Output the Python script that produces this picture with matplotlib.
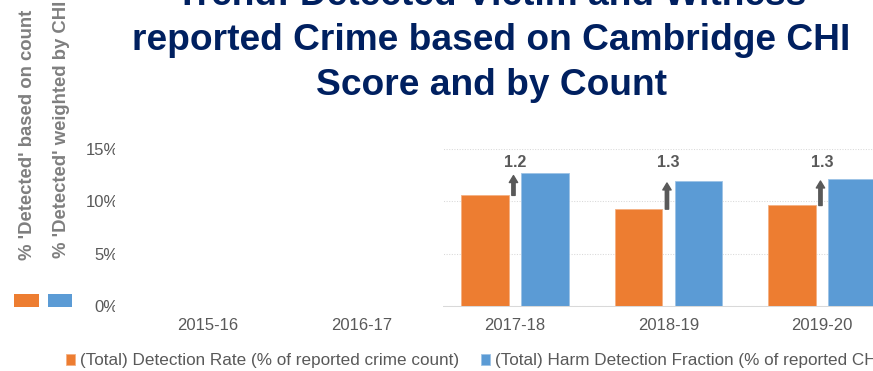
import matplotlib
matplotlib.use("Agg")
import matplotlib.pyplot as plt
import numpy as np
from matplotlib.patches import Rectangle, FancyArrowPatch
from matplotlib.ticker import PercentFormatter

plt.rcParams["font.family"] = ["Liberation Sans", "DejaVu Sans"]

# data (values in %)
years = ["2015-16", "2016-17", "2017-18", "2018-19", "2019-20"]
detection_rate = [np.nan, np.nan, 10.58, 9.26, 9.61]
harm_fraction = [np.nan, np.nan, 12.68, 11.97, 12.16]
uplift = [None, None, 1.2, 1.3, 1.3]
y_ticks = [0, 5, 10, 15]

series_names = [
    "(Total) Detection Rate (% of reported crime count)",
    "(Total) Harm Detection Fraction (% of reported CHI Score)",
]
title_lines = [
    "Trend: Detected Victim and Witness",
    "reported Crime based on Cambridge CHI",
    "Score and by Count",
]

ORANGE = "#ED7D31"
BLUE = "#5B9BD5"
GREY = "#595959"
LIGHT = "#7F7F7F"
NAVY = "#002060"

W, H = 873, 371


def fx(x):
    return x / W


def fy(y):
    return 1 - y / H


fig = plt.figure(figsize=(W / 100, H / 100), dpi=100)
ax = fig.add_axes([fx(131.25), fy(305.7), 767.5 / W, (305.7 - 149.3) / H])

x = np.arange(len(years))
bw = 0.31
off = 0.195
b1 = ax.bar(x - off, detection_rate, bw, color=ORANGE, edgecolor="#F4B183",
            linewidth=0.6, label=series_names[0])
b2 = ax.bar(x + off, harm_fraction, bw, color=BLUE, edgecolor="#9DC3E6",
            linewidth=0.6, label=series_names[1])

for i, r in enumerate(uplift):
    if r is None:
        continue
    arrow = FancyArrowPatch(
        (i - 0.01, detection_rate[i]),
        (i - 0.01, harm_fraction[i]),
        arrowstyle="Simple, tail_width=2.4, head_width=6, head_length=5",
        color=GREY,
        shrinkA=0,
        shrinkB=1.5,
        mutation_scale=1,
    )
    ax.add_patch(arrow)
    ax.text(i, 13.3, f"{r:.1f}", ha="center", va="baseline", fontsize=11.5,
            fontweight="bold", color=GREY, clip_on=False)

ax.set_xlim(-0.5, 4.5)
ax.set_ylim(0, 15)
ax.set_xticks(x)
ax.set_xticklabels(years)
ax.set_yticks(y_ticks)
ax.yaxis.set_major_formatter(PercentFormatter(100, decimals=0))
ax.tick_params(axis="both", length=0, labelsize=12, labelcolor=GREY)
ax.tick_params(axis="y", pad=9)
ax.tick_params(axis="x", pad=9)
ax.yaxis.grid(True, linestyle=(0, (1, 1.5)), color="#D9D9D9", linewidth=0.75)
ax.set_axisbelow(True)
for s in ["top", "right", "left"]:
    ax.spines[s].set_visible(False)
ax.spines["bottom"].set_color("#D9D9D9")
ax.spines["bottom"].set_linewidth(0.75)

# white box sitting over the left part of the chart (as on the slide)
fig.add_artist(Rectangle((fx(115), fy(312)), (443 - 115) / W, (312 - 125) / H,
                         transform=fig.transFigure, facecolor="white",
                         edgecolor="none", zorder=5))

# title
for line, base in zip(title_lines, [5, 50, 95]):
    fig.text(fx(491.5), fy(base), line, ha="center", va="baseline",
             fontsize=26.7, fontweight="bold", color=NAVY)

# rotated side labels with their colour keys
fig.text(fx(32.3), fy(260), "% 'Detected' based on count", rotation=90,
         rotation_mode="anchor", ha="left", va="baseline", fontsize=13.3,
         fontweight="bold", color=LIGHT)
fig.text(fx(65.7), fy(258), "% 'Detected' weighted by CHI", rotation=90,
         rotation_mode="anchor", ha="left", va="baseline", fontsize=13.3,
         fontweight="bold", color=LIGHT)
fig.add_artist(Rectangle((fx(14), fy(306.5)), 25 / W, 12.5 / H,
                         transform=fig.transFigure, facecolor=ORANGE,
                         edgecolor="none"))
fig.add_artist(Rectangle((fx(48), fy(306.5)), 24 / W, 12.5 / H,
                         transform=fig.transFigure, facecolor=BLUE,
                         edgecolor="none"))

fig.legend(handles=[b1, b2], loc="center left",
           bbox_to_anchor=(fx(66), fy(361)), ncol=2, frameon=False,
           fontsize=12.3, handlelength=0.54, handleheight=0.54,
           handletextpad=0.26, columnspacing=1.3, borderpad=0,
           borderaxespad=0, labelcolor=GREY)

fig.savefig("out.png", dpi=100)
